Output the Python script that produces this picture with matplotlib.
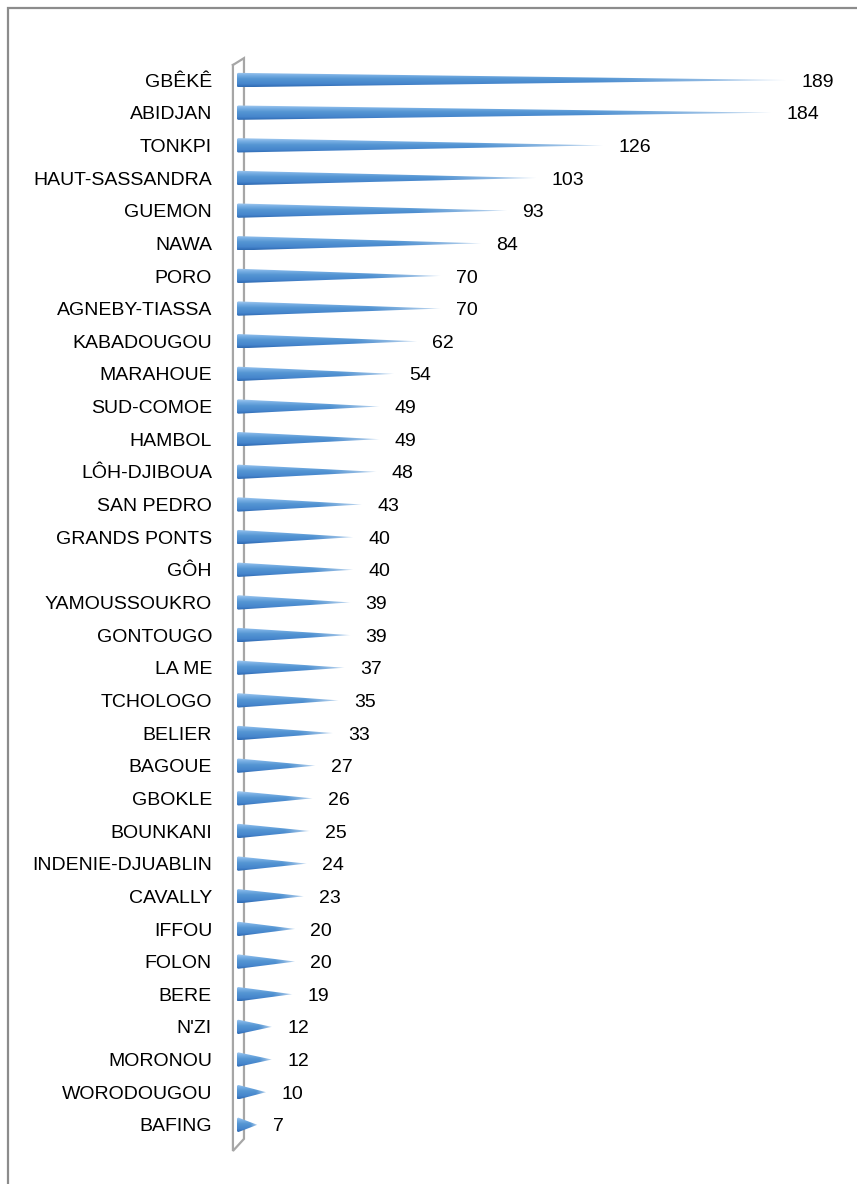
import numpy as np
import matplotlib.pyplot as plt
from matplotlib.patches import Polygon, Rectangle
from matplotlib.colors import LinearSegmentedColormap, to_rgb

plt.rcParams['font.family'] = ['Liberation Sans', 'DejaVu Sans']

regions = ["GBÊKÊ", "ABIDJAN", "TONKPI", "HAUT-SASSANDRA", "GUEMON", "NAWA",
           "PORO", "AGNEBY-TIASSA", "KABADOUGOU", "MARAHOUE", "SUD-COMOE",
           "HAMBOL", "LÔH-DJIBOUA", "SAN PEDRO", "GRANDS PONTS", "GÔH",
           "YAMOUSSOUKRO", "GONTOUGO", "LA ME", "TCHOLOGO", "BELIER", "BAGOUE",
           "GBOKLE", "BOUNKANI", "INDENIE-DJUABLIN", "CAVALLY", "IFFOU", "FOLON",
           "BERE", "N'ZI", "MORONOU", "WORODOUGOU", "BAFING"]
counts = [189, 184, 126, 103, 93, 84, 70, 70, 62, 54, 49, 49, 48, 43, 40, 40,
          39, 39, 37, 35, 33, 27, 26, 25, 24, 23, 20, 20, 19, 12, 12, 10, 7]

W, H = 857, 1184
fig = plt.figure(figsize=(W / 100, H / 100), dpi=100)

# outer chart border (open at right/bottom edges, like the cropped original)
fig.patches.append(Rectangle((8 / W, -0.01), 1.02, 1 - 8 / H + 0.01,
                             transform=fig.transFigure, fill=False,
                             edgecolor='#8c8c8c', linewidth=1.6))

# axes placed so that x=0 sits at the wall and rows are ~32.6px apart
ax = fig.add_axes([237 / W, 10.2 / H, 581 / W, 1142.75 / H])
ax.set_xlim(0, 200)
ax.set_ylim(33.5, -1.5)
ax.axis('off')

# vertical shading of a cone, light on top, darker underneath
cmap = LinearSegmentedColormap.from_list(
    'cone', [(0, '#a4caef'), (0.2, '#78afe4'), (0.45, '#5596d3'),
             (0.8, '#4585cc'), (1, '#2f6ab2')])
ny, nx = 40, 160
rows = cmap(np.linspace(0, 1, ny))[:, :3]
grad = np.repeat(rows[:, None, :], nx, axis=1)
fade = np.clip((np.linspace(0, 1, nx) - 0.65) / 0.35, 0, 1) ** 1.2 * 0.8
grad = grad * (1 - fade[None, :, None]) + np.array(to_rgb('#e3eefa')) * fade[None, :, None]

half = 0.22   # half height of the cone base, in row units
rx = 1.0      # depth of the rounded base, in data units
th = np.linspace(np.pi / 2, 3 * np.pi / 2, 20)

for i, (name, v) in enumerate(zip(regions, counts)):
    base = np.column_stack([rx * np.cos(th) + rx * 0.5, i - half * np.sin(th)])
    pts = np.vstack([base, [[v, i]]])
    poly = Polygon(pts, closed=True, facecolor='none', edgecolor='none')
    ax.add_patch(poly)
    im = ax.imshow(grad, extent=[-rx * 0.5, v, i + half, i - half],
                   aspect='auto', interpolation='bilinear', zorder=3)
    im.set_clip_path(poly)
    ax.annotate(str(v), (v, i), xytext=(11, -1.5), textcoords='offset points',
                ha='left', va='center', fontsize=14, color='black')
    ax.annotate(name, (0, i), xytext=(-18, -1.5), textcoords='offset points',
                ha='right', va='center', fontsize=14, color='black',
                annotation_clip=False)

# thin 3D wall behind the cones
wall_x = [-1.4, 2.4, 2.4, -1.4, -1.4]
wall_y = [-0.46, -0.67, 32.43, 32.8, -0.46]
ax.plot(wall_x, wall_y, color='#a6a6a6', linewidth=1.6, zorder=2,
        clip_on=False, solid_joinstyle='miter')

ax.set_xlim(0, 200)
ax.set_ylim(33.5, -1.5)

fig.savefig('out.png', dpi=100)
